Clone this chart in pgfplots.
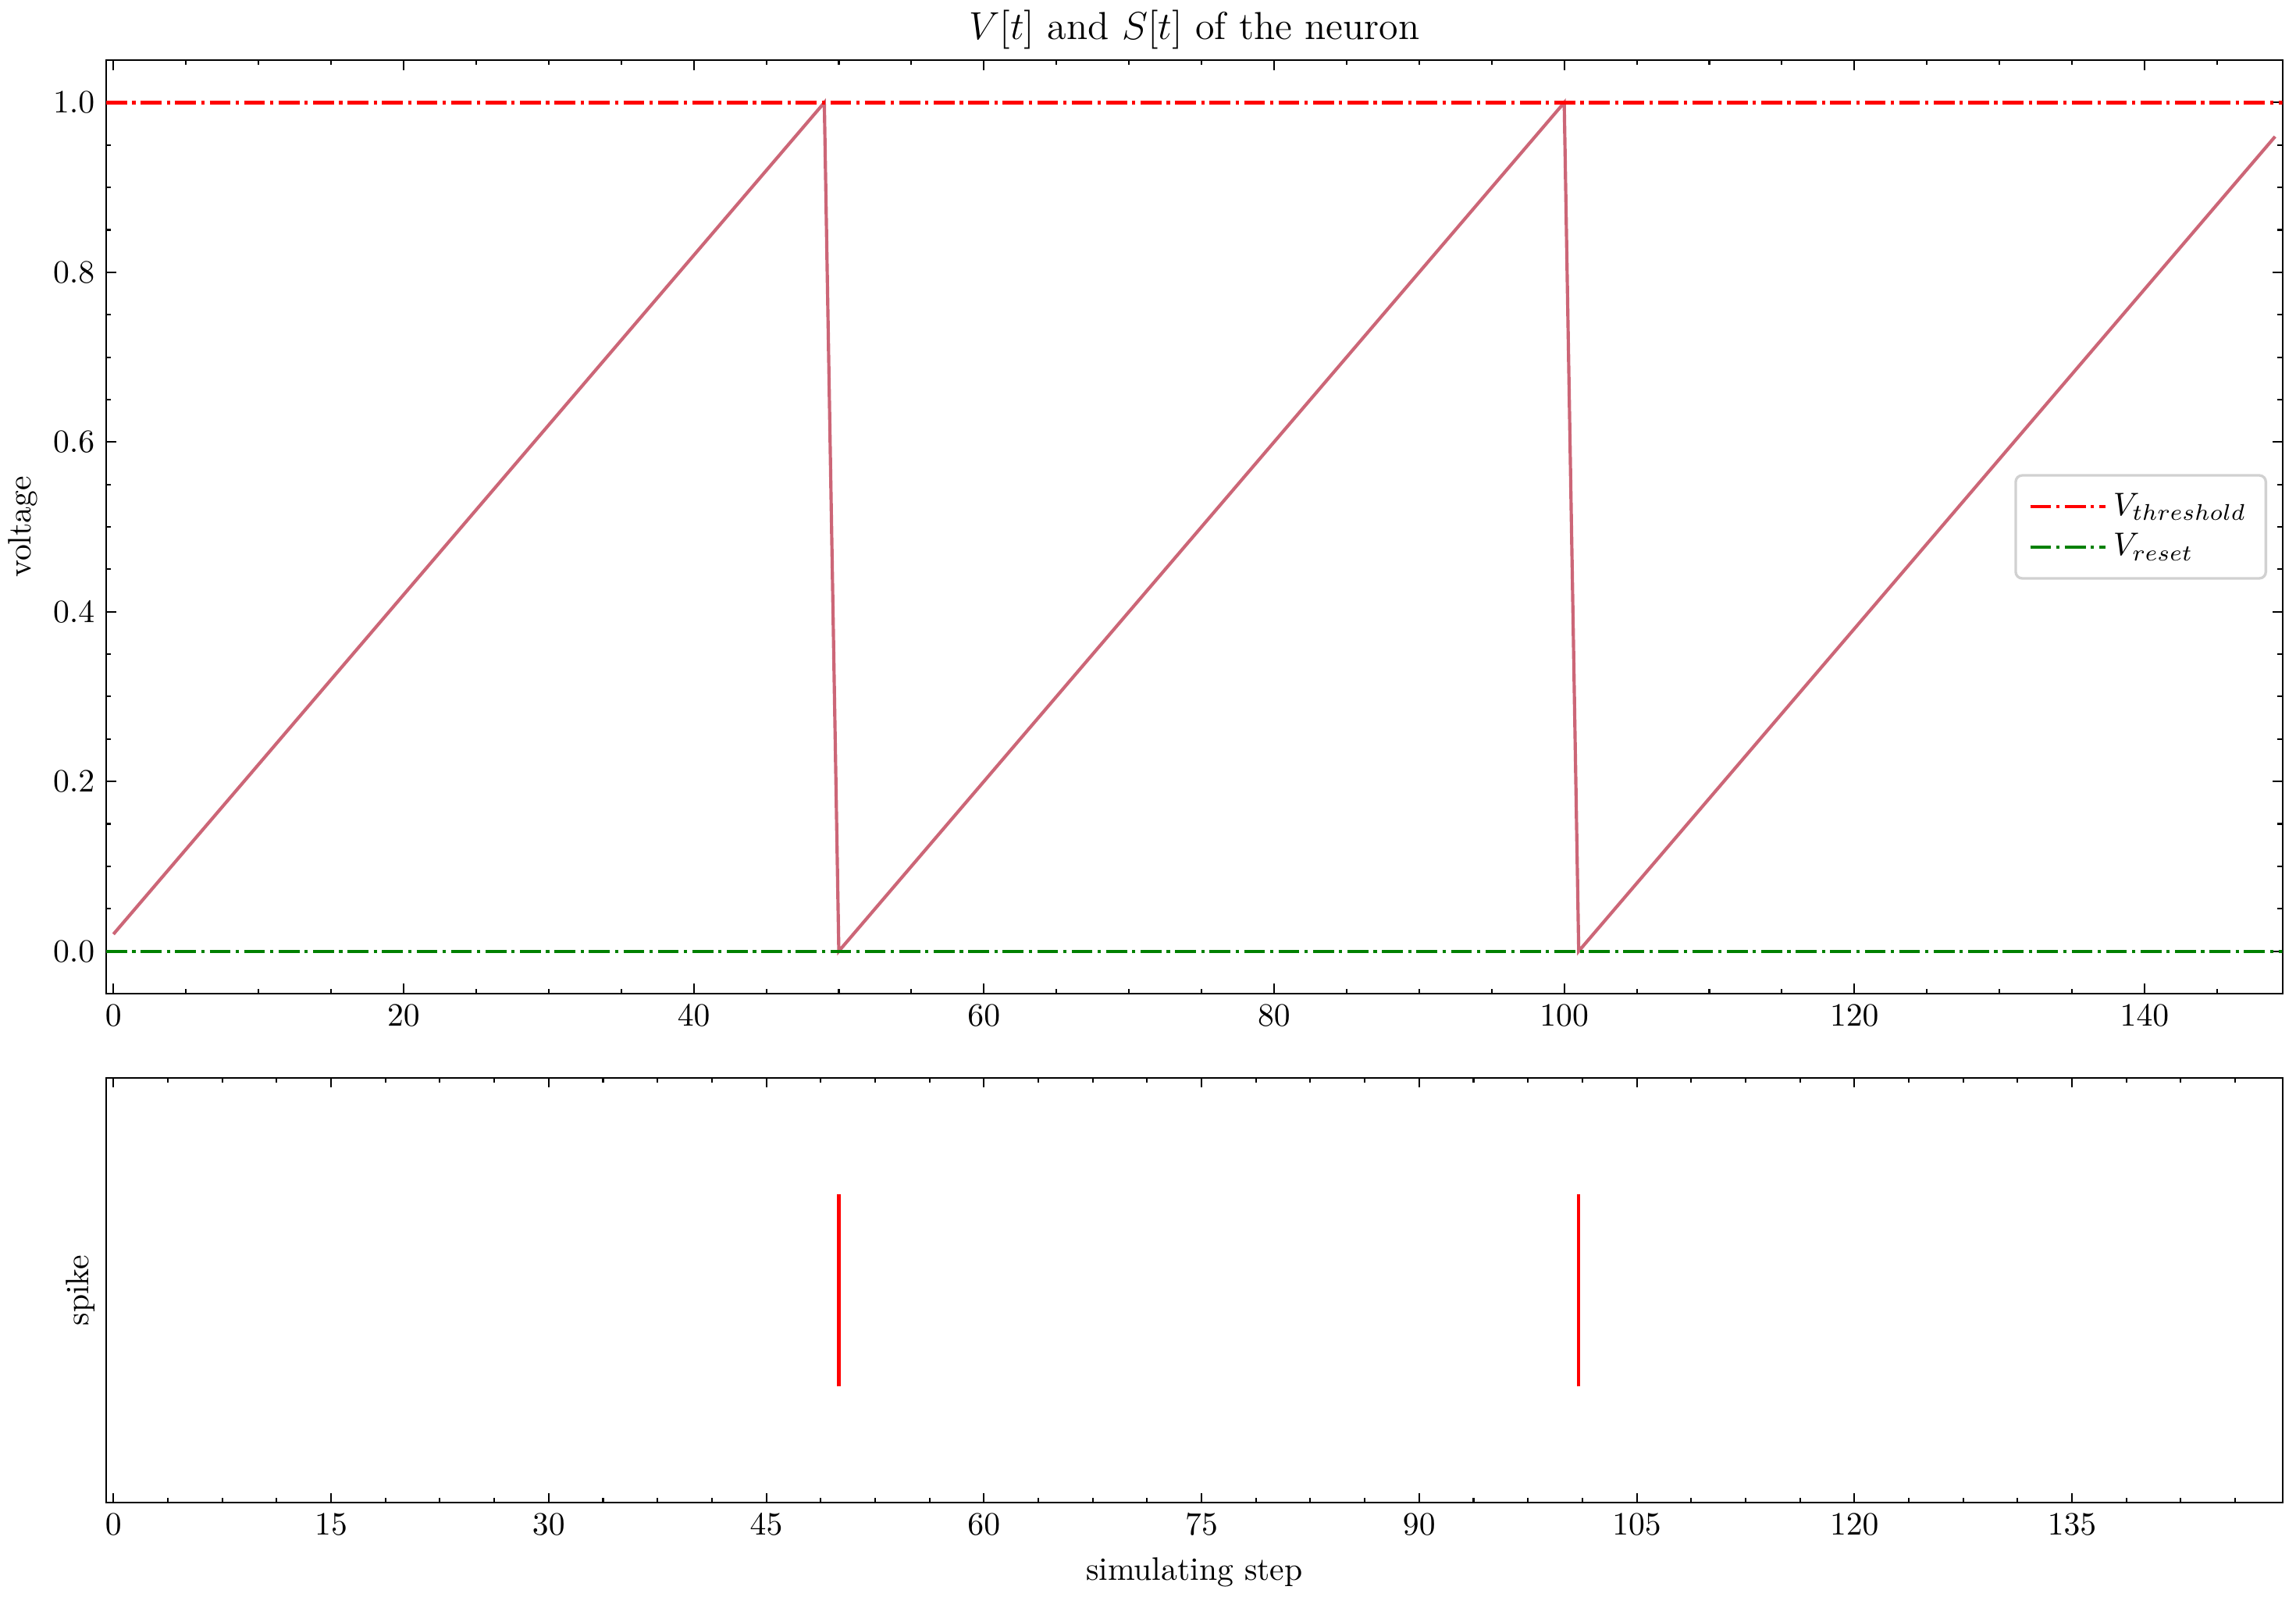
\documentclass[border=0pt]{standalone}
\usepackage{pgfplots}
\pgfplotsset{compat=1.18}
\definecolor{pinkline}{HTML}{CC6677}
\definecolor{mgreen}{HTML}{008000}
\begin{document}
\begin{tikzpicture}
\useasboundingbox (-32.64pt,-185.3pt) rectangle (673.2pt,305.5pt);
\tikzset{dashdot/.style={dash pattern=on 6.4pt off 1.6pt on 1pt off 1.6pt}}
\pgfplotsset{
  every axis/.append style={
    scale only axis, width=669pt,
    axis line style={line width=0.5pt},
    every tick/.style={black, line width=0.5pt},
    major tick length=3pt, minor tick length=1.5pt,
    tick align=inside,
    xmin=-0.5, xmax=149.5,
    tick label style={font=\normalsize},
    label style={font=\normalsize},
  }
}
\begin{axis}[at={(0,0)}, anchor=south west, height=287pt,
  ymin=-0.05, ymax=1.05,
  xtick={0,20,40,60,80,100,120,140},
  minor xtick={5,10,15,25,30,35,45,50,55,65,70,75,85,90,95,105,110,115,125,130,135,145},
  ytick={0,0.2,0.4,0.6,0.8,1.0},
  minor ytick={0.05,0.1,0.15,0.25,0.3,0.35,0.45,0.5,0.55,0.65,0.7,0.75,0.85,0.9,0.95},
  yticklabel style={/pgf/number format/.cd, fixed, fixed zerofill, precision=1},
  ylabel={voltage},
  ylabel style={at={(axis description cs:-0.0263,0.5)}, anchor=south},
  title={$V[t]$ and $S[t]$ of the neuron},
  title style={font=\large, anchor=base, yshift=0.5pt},
  legend style={at={(0.993,0.5)}, anchor=east, draw=black!18, rounded corners=2pt, line width=0.8pt, font=\normalsize, inner xsep=4pt, inner ysep=3.5pt},
  legend cell align=left,
  legend image code/.code={\draw[#1] (0pt,0pt) -- (19.5pt,0pt); \path (0pt,0pt) -- (23pt,0pt);},
]
\addplot[pinkline, line width=1pt, forget plot] coordinates {
(0,0.02)(1,0.04)(2,0.06)(3,0.08)(4,0.10)(5,0.12)(6,0.14)(7,0.16)(8,0.18)(9,0.20)
(10,0.22)(11,0.24)(12,0.26)(13,0.28)(14,0.30)(15,0.32)(16,0.34)(17,0.36)(18,0.38)(19,0.40)
(20,0.42)(21,0.44)(22,0.46)(23,0.48)(24,0.50)(25,0.52)(26,0.54)(27,0.56)(28,0.58)(29,0.60)
(30,0.62)(31,0.64)(32,0.66)(33,0.68)(34,0.70)(35,0.72)(36,0.74)(37,0.76)(38,0.78)(39,0.80)
(40,0.82)(41,0.84)(42,0.86)(43,0.88)(44,0.90)(45,0.92)(46,0.94)(47,0.96)(48,0.98)(49,1.00)
(50,0.00)
(51,0.02)(52,0.04)(53,0.06)(54,0.08)(55,0.10)(56,0.12)(57,0.14)(58,0.16)(59,0.18)(60,0.20)
(61,0.22)(62,0.24)(63,0.26)(64,0.28)(65,0.30)(66,0.32)(67,0.34)(68,0.36)(69,0.38)(70,0.40)
(71,0.42)(72,0.44)(73,0.46)(74,0.48)(75,0.50)(76,0.52)(77,0.54)(78,0.56)(79,0.58)(80,0.60)
(81,0.62)(82,0.64)(83,0.66)(84,0.68)(85,0.70)(86,0.72)(87,0.74)(88,0.76)(89,0.78)(90,0.80)
(91,0.82)(92,0.84)(93,0.86)(94,0.88)(95,0.90)(96,0.92)(97,0.94)(98,0.96)(99,0.98)(100,1.00)
(101,0.00)
(102,0.02)(103,0.04)(104,0.06)(105,0.08)(106,0.10)(107,0.12)(108,0.14)(109,0.16)(110,0.18)(111,0.20)
(112,0.22)(113,0.24)(114,0.26)(115,0.28)(116,0.30)(117,0.32)(118,0.34)(119,0.36)(120,0.38)(121,0.40)
(122,0.42)(123,0.44)(124,0.46)(125,0.48)(126,0.50)(127,0.52)(128,0.54)(129,0.56)(130,0.58)(131,0.60)
(132,0.62)(133,0.64)(134,0.66)(135,0.68)(136,0.70)(137,0.72)(138,0.74)(139,0.76)(140,0.78)(141,0.80)
(142,0.82)(143,0.84)(144,0.86)(145,0.88)(146,0.90)(147,0.92)(148,0.94)(149,0.96)
};
\addplot[red, line width=1pt, dashdot] coordinates {(-0.5,1)(149.5,1)};
\addlegendentry{$V_{threshold}$}
\addplot[mgreen, line width=1pt, dashdot] coordinates {(-0.5,0)(149.5,0)};
\addlegendentry{$V_{reset}$}
\end{axis}
\begin{axis}[at={(0,-25.9pt)}, anchor=north west, height=130.6pt,
  ymin=-0.1025, ymax=2.1025, ytick=\empty,
  xtick={0,15,30,45,60,75,90,105,120,135},
  minor xtick={3.75,7.5,11.25,18.75,22.5,26.25,33.75,37.5,41.25,48.75,52.5,56.25,63.75,67.5,71.25,78.75,82.5,86.25,93.75,97.5,101.25,108.75,112.5,116.25,123.75,127.5,131.25,138.75,142.5,146.25},
  xlabel={simulating step},
  ylabel={spike},
]
\addplot[red, line width=1pt] coordinates {(50,0.5)(50,1.5)};
\addplot[red, line width=1pt] coordinates {(101,0.5)(101,1.5)};
\end{axis}
\end{tikzpicture}
\end{document}
